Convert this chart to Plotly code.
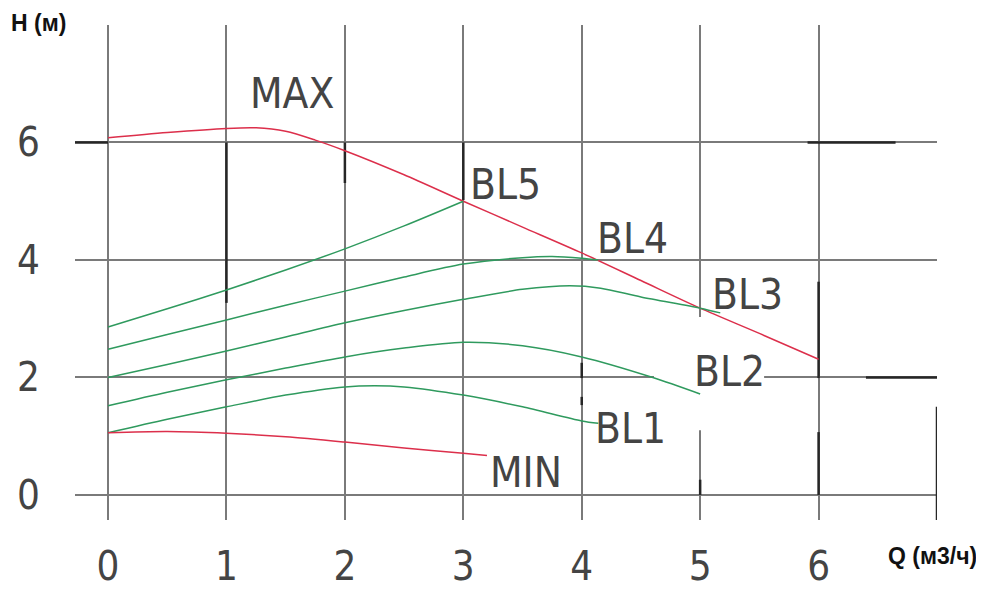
import plotly.graph_objects as go

# ---- data ----
max_q = [0, 0.5, 1.0, 1.25, 1.5, 1.75, 2.0, 2.5, 3.0, 3.5, 4.0, 4.5, 5.0, 5.5, 6.0]
max_h = [6.08, 6.17, 6.24, 6.25, 6.19, 6.04, 5.86, 5.45, 5.0, 4.56, 4.12, 3.65, 3.18, 2.75, 2.31]

bl5_q = [0, 0.5, 1.0, 1.5, 2.0, 2.5, 3.0]
bl5_h = [2.86, 3.17, 3.49, 3.83, 4.19, 4.58, 5.0]

bl4_q = [0, 0.5, 1.0, 1.5, 2.0, 2.5, 3.0, 3.5, 3.75, 4.0, 4.14]
bl4_h = [2.48, 2.73, 2.98, 3.23, 3.47, 3.71, 3.93, 4.04, 4.06, 4.03, 4.0]

bl3_q = [0, 0.5, 1.0, 1.5, 2.0, 2.5, 3.0, 3.5, 3.9, 4.16, 4.5, 5.0, 5.17]
bl3_h = [2.0, 2.22, 2.45, 2.69, 2.93, 3.14, 3.33, 3.5, 3.56, 3.52, 3.37, 3.18, 3.1]

bl2_q = [0, 0.5, 1.0, 1.5, 2.0, 2.5, 3.0, 3.5, 4.0, 4.6, 5.0]
bl2_h = [1.52, 1.75, 1.96, 2.16, 2.35, 2.5, 2.6, 2.54, 2.35, 2.0, 1.72]

bl1_q = [0, 0.5, 1.0, 1.5, 2.0, 2.25, 2.5, 3.0, 3.5, 4.0, 4.14]
bl1_h = [1.06, 1.29, 1.5, 1.7, 1.84, 1.86, 1.84, 1.7, 1.5, 1.26, 1.22]

min_q = [0, 0.5, 1.0, 1.5, 2.0, 2.5, 3.0, 3.2]
min_h = [1.06, 1.08, 1.05, 0.99, 0.9, 0.8, 0.71, 0.67]

curve_names = ["MAX", "BL5", "BL4", "BL3", "BL2", "BL1", "MIN"]

x_tick_vals = [0, 1, 2, 3, 4, 5, 6, 7]
x_tick_text = ["0", "1", "2", "3", "4", "5", "6", ""]
y_tick_vals = [0, 2, 4, 6, 8]
y_tick_text = ["0", "2", "4", "6", ""]

# ---- styles / positions ----
RED = "#dc2f4b"
GREEN = "#2f9a5e"
GRID = "#7a7a7a"
DARK = "#262626"
TXT = "#444444"
FONT = "Liberation Sans Narrow, DejaVu Sans Condensed, sans-serif"

label_pos = {
    "MAX": (1.55, 6.84),
    "BL5": (3.36, 5.29),
    "BL4": (4.43, 4.37),
    "BL3": (5.40, 3.42),
    "BL2": (5.25, 2.11),
    "BL1": (4.41, 1.14),
    "MIN": (3.53, 0.39),
}

series = [
    ("MAX", max_q, max_h, RED),
    ("BL5", bl5_q, bl5_h, GREEN),
    ("BL4", bl4_q, bl4_h, GREEN),
    ("BL3", bl3_q, bl3_h, GREEN),
    ("BL2", bl2_q, bl2_h, GREEN),
    ("BL1", bl1_q, bl1_h, GREEN),
    ("MIN", min_q, min_h, RED),
]

fig = go.Figure()
for name, q, h, col in series:
    fig.add_trace(go.Scatter(
        x=q, y=h, mode="lines", name=name,
        line=dict(color=col, width=1.5, shape="spline", smoothing=0.8),
        showlegend=False, hoverinfo="skip",
    ))

X0, X1 = -0.279, 7.0
Y0, Y1 = -0.426, 8.0

shapes = []
# gaps in the grid (white patches above grid, below data)
gaps = [
    (4.61, 5.54, 1.94, 2.06),   # y=2 line around BL2 label
    (4.96, 5.04, 1.10, 3.03),   # x=5 line gap
    (6.96, 7.04, 1.50, 1.96),   # x=7 line gap
]
for xa, xb, ya, yb in gaps:
    shapes.append(dict(type="rect", xref="x", yref="y", x0=xa, x1=xb, y0=ya, y1=yb,
                       fillcolor="white", line=dict(width=0), layer="between"))
# heavier dark segments of the drawing
dark_h = [(-0.279, 0.0, 6), (5.907, 6.65, 6), (6.4, 7.0, 2)]
dark_v = [(1, 6.0, 3.27), (2, 6.0, 5.31), (3, 6.0, 5.02), (4, 2.25, 1.99), (4, 1.67, 1.53),
          (5, 0.26, 0.0), (6, 3.63, 1.99), (6, 1.07, 0.0), (7, 1.5, Y0)]
for xa, xb, yv in dark_h:
    shapes.append(dict(type="line", xref="x", yref="y", x0=xa, x1=xb, y0=yv, y1=yv,
                       line=dict(color=DARK, width=2.5), layer="between"))
for xv, ya, yb in dark_v:
    shapes.append(dict(type="line", xref="x", yref="y", x0=xv, x1=xv, y0=ya, y1=yb,
                       line=dict(color=DARK, width=2.5), layer="between"))

annotations = []
for name in curve_names:
    lx, ly = label_pos[name]
    annotations.append(dict(x=lx, y=ly, xref="x", yref="y", text=name, showarrow=False,
                            font=dict(family=FONT, size=42, color=TXT),
                            xanchor="center", yanchor="middle"))
annotations.append(dict(x=(38 - 75) / 862, y=(520 - 23) / 495, xref="paper", yref="paper",
                        text="<b>H (м)</b>", showarrow=False,
                        font=dict(family="Liberation Sans, Arial, sans-serif", size=23, color="#111111"),
                        xanchor="center", yanchor="middle"))
annotations.append(dict(x=(932 - 75) / 862, y=(520 - 556) / 495, xref="paper", yref="paper",
                        text="<b>Q (м3/ч)</b>", showarrow=False,
                        font=dict(family="Liberation Sans, Arial, sans-serif", size=23, color="#111111"),
                        xanchor="center", yanchor="middle"))

# page body has an 8px margin, so the figure is 976x582 and sits at (8, 8)
fig.update_layout(
    width=976, height=582,
    margin=dict(l=67, r=47, t=17, b=70, autoexpand=False),
    paper_bgcolor="white", plot_bgcolor="white",
    shapes=shapes, annotations=annotations,
    xaxis=dict(range=[X0, X1], tickvals=x_tick_vals, ticktext=x_tick_text,
               showgrid=True, gridcolor=GRID, gridwidth=1.5, zeroline=False,
               showline=False, ticks="", ticklabelstandoff=19, automargin=False,
               tickfont=dict(family=FONT, size=40, color=TXT)),
    yaxis=dict(range=[Y0, Y1], tickvals=y_tick_vals, ticktext=y_tick_text,
               showgrid=True, gridcolor=GRID, gridwidth=1.5, zeroline=False,
               showline=False, ticks="", ticklabelstandoff=34, automargin=False,
               tickfont=dict(family=FONT, size=40, color=TXT)),
)

fig.write_html("out.html")
